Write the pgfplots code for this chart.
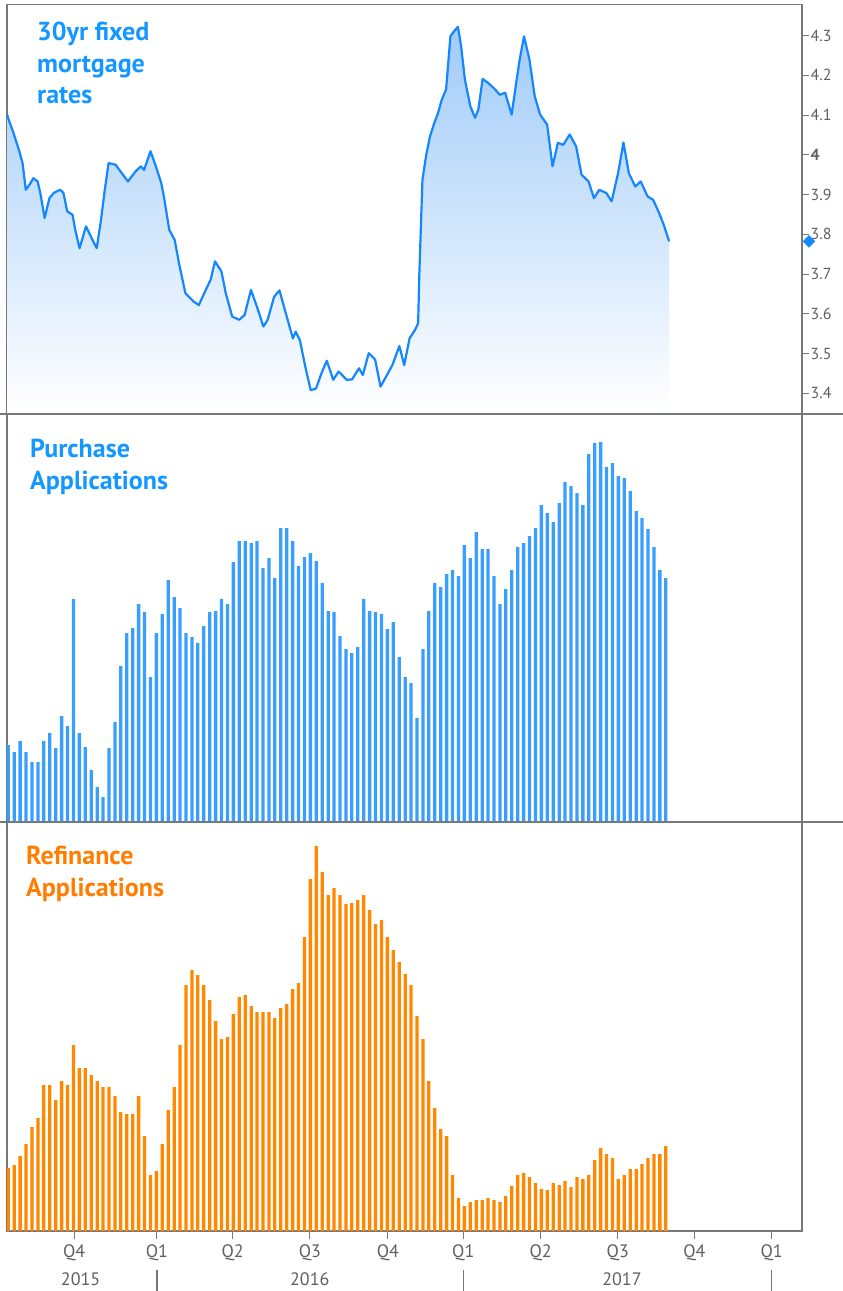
\documentclass[border=0pt]{standalone}
\usepackage{fontspec}
\setmainfont{PT Sans}
\usepackage{pgfplots}
\pgfplotsset{compat=1.18}
\usepackage{pgfplotstable}
\definecolor{linecol}{RGB}{20,135,255}
\definecolor{fillcol}{RGB}{160,203,249}
\definecolor{titleblue}{RGB}{20,152,255}
\definecolor{barblue}{RGB}{58,158,255}
\definecolor{barorange}{RGB}{255,136,0}
\definecolor{titleorange}{RGB}{255,125,0}
\definecolor{framegray}{RGB}{120,120,120}
\definecolor{labelgray}{RGB}{95,95,95}

\pgfplotstableread{
k v
0.78 4.102
0.96 4.093
1.87 4.055
2.78 4.013
3.41 3.979
3.95 3.912
4.59 3.925
5.23 3.941
5.95 3.933
6.40 3.904
7.13 3.841
7.95 3.891
8.67 3.904
9.76 3.912
10.31 3.904
10.94 3.858
11.85 3.849
12.30 3.811
13.03 3.765
14.12 3.820
15.21 3.786
15.93 3.765
16.66 3.837
17.29 3.912
17.93 3.979
19.11 3.975
21.20 3.933
22.47 3.958
23.37 3.971
23.92 3.962
25.01 4.009
25.91 3.971
26.82 3.929
27.27 3.895
28.18 3.811
29.09 3.786
29.82 3.727
30.90 3.652
32.27 3.631
33.17 3.622
34.08 3.652
35.17 3.686
35.89 3.732
36.98 3.707
37.71 3.652
38.80 3.593
39.98 3.585
40.89 3.597
41.97 3.660
43.16 3.610
44.06 3.568
44.79 3.585
45.88 3.643
46.78 3.659
47.69 3.610
49.05 3.538
49.51 3.555
50.23 3.534
51.14 3.467
52.05 3.408
52.95 3.412
53.86 3.450
54.77 3.482
55.86 3.434
56.77 3.455
58.13 3.434
59.03 3.435
60.21 3.463
60.85 3.446
61.85 3.501
62.93 3.485
63.84 3.417
64.93 3.446
65.84 3.471
67.02 3.519
67.84 3.471
68.74 3.538
69.65 3.559
70.19 3.576
70.38 3.694
70.65 3.816
70.92 3.937
71.56 4.000
72.19 4.046
72.92 4.080
73.55 4.105
74.19 4.139
74.91 4.164
75.64 4.298
76.27 4.311
76.91 4.322
77.45 4.273
78.09 4.189
79.00 4.122
79.81 4.093
80.36 4.114
81.08 4.191
81.99 4.181
83.08 4.166
83.99 4.151
84.89 4.156
85.98 4.101
86.71 4.177
87.34 4.240
88.07 4.298
88.98 4.240
89.88 4.147
90.79 4.101
91.97 4.076
92.88 3.971
93.79 4.030
94.69 4.025
95.78 4.051
96.87 4.021
97.78 3.950
98.96 3.933
99.87 3.891
100.77 3.912
101.95 3.904
102.86 3.883
103.95 3.954
104.86 4.031
105.76 3.954
106.85 3.920
107.76 3.933
108.94 3.895
109.85 3.887
110.75 3.858
111.66 3.824
112.57 3.782
}\rates

\pgfplotstableread{
k h
1 77
2 70
3 81
4 70
5 60
6 60
7 81
8 89
9 74
10 106
11 96
12 223
13 89
14 75
15 52
16 35
17 25
18 74
19 100
20 156
21 189
22 194
23 218
24 210
25 145
26 189
27 208
28 242
29 225
30 214
31 189
32 185
33 179
34 196
35 210
36 211
37 223
38 218
39 260
40 281
41 281
42 279
43 281
44 254
45 264
46 244
47 294
48 294
49 281
50 256
51 265
52 269
53 261
54 239
55 211
56 210
57 186
58 173
59 169
60 175
61 223
62 211
63 210
64 208
65 193
66 200
67 165
68 145
69 139
70 104
71 173
72 211
73 239
74 235
75 248
76 252
77 246
78 277
79 264
80 290
81 273
82 273
83 246
84 218
85 233
86 252
87 275
88 279
89 286
90 294
91 317
92 309
93 300
94 319
95 340
96 336
97 329
98 317
99 368
100 379
101 380
102 355
103 359
104 346
105 344
106 331
107 311
108 304
109 293
110 275
111 252
112 244
}\purchase

\pgfplotstableread{
k h
1 63
2 66
3 75
4 87
5 104
6 113
7 146
8 146
9 131
10 150
11 146
12 186
13 163
14 163
15 156
16 150
17 144
18 144
19 135
20 119
21 117
22 117
23 135
24 95
25 56
26 60
27 87
28 121
29 144
30 186
31 246
32 261
33 256
34 246
35 231
36 210
37 192
38 194
39 217
40 234
41 236
42 225
43 219
44 219
45 219
46 213
47 223
48 227
49 242
50 248
51 294
52 352
53 385
54 359
55 336
56 343
57 336
58 327
59 328
60 331
61 336
62 321
63 307
64 311
65 294
66 281
67 269
68 257
69 246
70 215
71 192
72 150
73 123
74 102
75 95
76 56
77 33
78 25
79 29
80 31
81 31
82 33
83 31
84 29
85 35
86 45
87 56
88 58
89 54
90 48
91 42
92 41
93 48
94 46
95 50
96 44
97 54
98 52
99 56
100 71
101 83
102 77
103 73
104 52
105 56
106 62
107 62
108 67
109 73
110 77
111 77
112 85
}\refinance

\begin{document}
\begin{tikzpicture}
\path[use as bounding box] (0pt,0pt) rectangle (843pt,-1291pt);
\pgfplotsset{panel/.style={scale only axis, width=795pt, xmin=0.78, xmax=135.0,
  axis line style={draw=framegray, line width=1.5pt},
  tick style={draw=framegray, line width=1pt},
  clip mode=individual,
  /pgf/number format/assume math mode=true}}

% top panel
\begin{axis}[panel, at={(7pt,-4.5pt)}, anchor=north west, height=409.5pt,
  ymin=3.348, ymax=4.378, xtick=\empty,
  ytick={3.4,3.5,3.6,3.7,3.8,3.9,4.0,4.1,4.2,4.3},
  yticklabels={3.4,3.5,3.6,3.7,3.8,3.9,\textbf{4},4.1,4.2,4.3},
  ytick pos=right, yticklabel pos=right, tick align=outside, major tick length=7pt,
  yticklabel style={font=\fontsize{16}{16}\selectfont, text=labelgray, inner sep=1.5pt}]
\addplot[draw=none, top color=fillcol, bottom color=white, forget plot] table[x=k,y=v] {\rates} \closedcycle;
\addplot[linecol, line width=2.2pt, line join=round] table[x=k,y=v] {\rates};
\addplot[only marks, mark=square*, mark size=4.2pt, color=linecol, mark options={xshift=7pt, rotate=45}] coordinates {(135.0,3.782)};
\end{axis}
\node[anchor=north west, align=left, font=\bfseries\fontsize{26}{31.5}\selectfont, text=titleblue, inner sep=0pt] at (37pt,-22pt) {30yr fixed\\mortgage\\rates};

% middle panel
\begin{axis}[panel, at={(7pt,-414pt)}, anchor=north west, height=408pt,
  ymin=0, ymax=408, xtick=\empty, ytick=\empty]
\addplot[ybar, bar width=3.3pt, fill=barblue, draw=none] table[x=k,y=h] {\purchase};
\end{axis}
\node[anchor=north west, align=left, font=\bfseries\fontsize{26}{31.5}\selectfont, text=titleblue, inner sep=0pt] at (30pt,-439pt) {Purchase\\Applications};

% bottom panel
\begin{axis}[panel, at={(7pt,-822pt)}, anchor=north west, height=409pt,
  ymin=0, ymax=409, ytick=\empty,
  xtick={12.12,26.10,38.89,51.92,65.08,77.81,90.89,103.90,116.83,129.89},
  xticklabels={Q4,Q1,Q2,Q3,Q4,Q1,Q2,Q3,Q4,Q1},
  xtick pos=bottom, tick align=outside, major tick length=8pt,
  xticklabel style={font=\fontsize{18}{18}\selectfont, text=labelgray, yshift=-2pt}]
\addplot[ybar, bar width=3.3pt, fill=barorange, draw=none] table[x=k,y=h] {\refinance};
\node[font=\fontsize{18}{18}\selectfont, text=labelgray] at ([yshift=-48pt]axis cs:13.2,0) {2015};
\node[font=\fontsize{18}{18}\selectfont, text=labelgray] at ([yshift=-48pt]axis cs:51.9,0) {2016};
\node[font=\fontsize{18}{18}\selectfont, text=labelgray] at ([yshift=-48pt]axis cs:104.6,0) {2017};
\draw[framegray, line width=1.3pt] ([yshift=-39pt]axis cs:26.10,0) -- ([yshift=-61pt]axis cs:26.10,0);
\draw[framegray, line width=1.3pt] ([yshift=-39pt]axis cs:77.81,0) -- ([yshift=-61pt]axis cs:77.81,0);
\draw[framegray, line width=1.3pt] ([yshift=-39pt]axis cs:129.89,0) -- ([yshift=-61pt]axis cs:129.89,0);
\end{axis}
\node[anchor=north west, align=left, font=\bfseries\fontsize{26}{31.5}\selectfont, text=titleorange, inner sep=0pt] at (26pt,-846pt) {Refinance\\Applications};

\draw[framegray, line width=1.5pt] (0pt,-414pt) -- (843pt,-414pt);
\draw[framegray, line width=1.5pt] (0pt,-822pt) -- (843pt,-822pt);
\end{tikzpicture}
\end{document}
